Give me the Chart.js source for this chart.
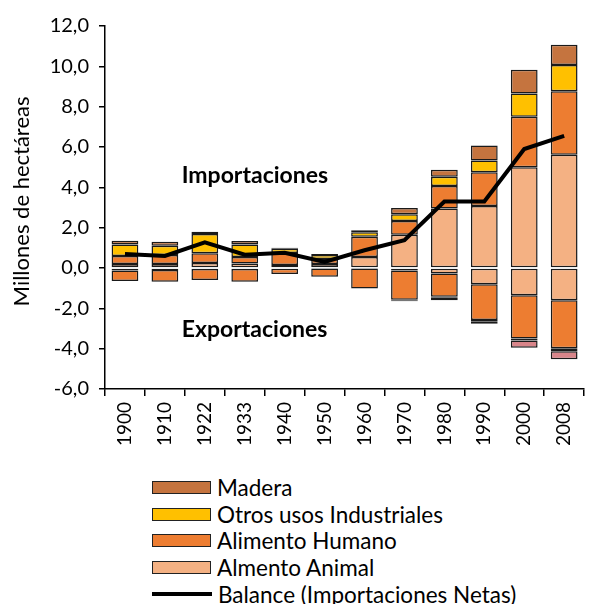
<!DOCTYPE html>
<html>
<head>
<meta charset="utf-8">
<script src="https://cdn.jsdelivr.net/npm/chart.js@4.4.1/dist/chart.umd.min.js"></script>
<style>
  body { margin: 0; background: #fff; font-family: Lato, sans-serif; }
  #wrap { position: relative; width: 593px; height: 604px; }
  #legend { position: absolute; left: 152px; top: 474px; }
  .item { display: flex; align-items: center; height: 26.7px; font-size: 22.5px; color: #000; white-space: nowrap; }
  .box { width: 57px; height: 11px; border: 1.5px solid #222; margin-right: 6px; flex: none; }
  .line { width: 60px; height: 4px; background: #000; margin-right: 6px; flex: none; }
</style>
</head>
<body>
<div id="wrap">
  <canvas id="chart" width="593" height="470"></canvas>
  <div id="legend"></div>
</div>
<script>
const years = ['1900','1910','1922','1933','1940','1950','1960','1970','1980','1990','2000','2008'];

// importaciones (positivo)
const animalImp = [0.20, 0.20, 0.25, 0.22, 0.15, 0.20, 0.55, 1.65, 2.95, 3.07, 5.00, 5.62];
const humanoImp = [0.40, 0.45, 0.48, 0.32, 0.60, 0.25, 1.00, 0.68, 1.12, 1.68, 2.50, 3.15];
const otrosImp  = [0.57, 0.45, 0.95, 0.62, 0.20, 0.20, 0.22, 0.33, 0.45, 0.58, 1.15, 1.30];
const maderaImp = [0.18, 0.20, 0.12, 0.18, 0.05, 0.05, 0.10, 0.32, 0.35, 0.75, 1.18, 1.00];

// exportaciones (negativo)
const animalExp = [-0.12, -0.10, -0.05, -0.05, 0, -0.03, -0.02, -0.12, -0.27, -0.80, -1.35, -1.60];
const humanoExp = [-0.53, -0.58, -0.55, -0.63, -0.30, -0.40, -1.00, -1.45, -1.15, -1.78, -2.15, -2.38];
const otrosExp  = [0, 0, 0, 0, 0, 0, 0, -0.05, -0.03, -0.06, -0.10, -0.15];
const maderaExp = [0, 0, 0, 0, 0, 0, 0, -0.03, -0.15, -0.12, -0.35, -0.40];

const balance = [0.70, 0.60, 1.27, 0.66, 0.75, 0.30, 0.88, 1.38, 3.30, 3.30, 5.90, 6.55];

const yTicks = [-6, -4, -2, 0, 2, 4, 6, 8, 10, 12];

const C_MADERA = '#c5743f';
const C_OTROS = '#ffc000';
const C_HUMANO = '#ed7d31';
const C_ANIMAL = '#f4b183';
const C_MADERA_EXP = '#d9858a';

function bar(label, data, color){
  return {
    type: 'bar', label: label, data: data,
    backgroundColor: color, borderColor: '#1a1a1a', borderWidth: 1.5,
    borderSkipped: false, stack: 's', order: 1
  };
}

const datasets = [
  bar('Almento Animal', animalImp, C_ANIMAL),
  bar('Alimento Humano', humanoImp, C_HUMANO),
  bar('Otros usos Industriales', otrosImp, C_OTROS),
  bar('Madera', maderaImp, C_MADERA),
  bar('Almento Animal exp', animalExp, C_ANIMAL),
  bar('Alimento Humano exp', humanoExp, C_HUMANO),
  bar('Otros usos Industriales exp', otrosExp, C_OTROS),
  bar('Madera exp', maderaExp, C_MADERA_EXP),
  {
    type: 'line', label: 'Balance (Importaciones Netas)', data: balance,
    borderColor: '#000', borderWidth: 4, pointRadius: 0, tension: 0,
    fill: false, order: 0
  }
];

const notes = {
  id: 'notes',
  afterDatasetsDraw(chart){
    const ctx = chart.ctx, x = chart.scales.x, y = chart.scales.y;
    ctx.save();
    ctx.font = 'bold 23px Lato';
    ctx.fillStyle = '#000';
    ctx.textBaseline = 'alphabetic';
    ctx.fillText('Importaciones', x.getPixelForValue(1.42), y.getPixelForValue(4.2));
    ctx.fillText('Exportaciones', x.getPixelForValue(1.42), y.getPixelForValue(-3.4));
    // título del eje y
    ctx.translate(22, y.getPixelForValue(3.3));
    ctx.rotate(-Math.PI / 2);
    ctx.font = '22px Lato';
    ctx.textAlign = 'center';
    ctx.textBaseline = 'middle';
    ctx.fillText('Millones de hectáreas', 0, 0);
    ctx.restore();
  }
};

new Chart(document.getElementById('chart'), {
  type: 'bar',
  data: { labels: years, datasets: datasets },
  plugins: [notes],
  options: {
    responsive: false,
    animation: false,
    devicePixelRatio: 1,
    layout: { padding: { top: 26, right: 1, left: 0, bottom: 0 } },
    plugins: { legend: { display: false }, tooltip: { enabled: false } },
    datasets: { bar: { barPercentage: 0.67, categoryPercentage: 1 } },
    scales: {
      x: {
        stacked: true,
        grid: { drawOnChartArea: false, drawTicks: true, tickLength: 7, color: '#000', lineWidth: 1.5 },
        border: { color: '#000', width: 1.5 },
        ticks: { color: '#000', font: { family: 'Lato', size: 19 }, maxRotation: 90, minRotation: 90, padding: 6 },
        afterFit: s => { s.height = 81; }
      },
      y: {
        stacked: true,
        min: -6, max: 12,
        afterBuildTicks: s => { s.ticks = yTicks.map(v => ({ value: v })); },
        grid: { drawOnChartArea: false, drawTicks: true, tickLength: 6, color: '#000', lineWidth: 1.5 },
        border: { color: '#000', width: 1.5 },
        ticks: {
          color: '#000', font: { family: 'Lato', size: 20 }, padding: 10,
          callback: v => v.toFixed(1).replace('.', ',')
        },
        afterFit: s => { s.width = 105; }
      }
    }
  }
});

// leyenda vertical como en el original
const legendItems = [
  { label: 'Madera', color: C_MADERA },
  { label: 'Otros usos Industriales', color: C_OTROS },
  { label: 'Alimento Humano', color: C_HUMANO },
  { label: 'Almento Animal', color: C_ANIMAL },
  { label: 'Balance (Importaciones Netas)', line: true }
];
const legend = document.getElementById('legend');
legendItems.forEach(it => {
  const row = document.createElement('div');
  row.className = 'item';
  const mark = document.createElement('span');
  if (it.line) { mark.className = 'line'; }
  else { mark.className = 'box'; mark.style.background = it.color; }
  const txt = document.createElement('span');
  txt.textContent = it.label;
  row.appendChild(mark);
  row.appendChild(txt);
  legend.appendChild(row);
});
</script>
</body>
</html>
